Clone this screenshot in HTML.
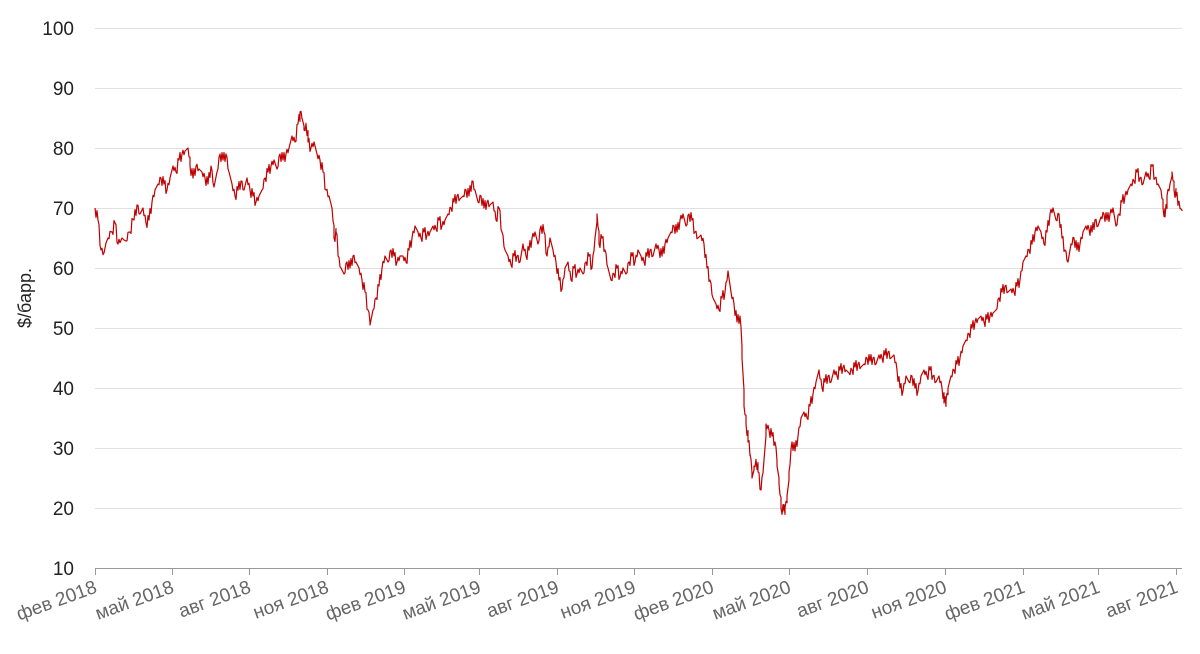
<!DOCTYPE html>
<html><head><meta charset="utf-8"><style>
body{margin:0;background:#fff;width:1200px;height:649px;overflow:hidden}
svg text{font-family:"Liberation Sans",sans-serif}
</style></head><body>
<svg id="s" width="1200" height="649" xmlns="http://www.w3.org/2000/svg">
<g id="grid" stroke="#e0e0e0" stroke-width="1"></g>
<g id="yl" font-size="19" fill="#222" text-anchor="end"></g>
<text x="0" y="0" font-size="18" fill="#222" text-anchor="middle" transform="translate(31,298) rotate(-90)">$/барр.</text>
<line x1="95" y1="568.5" x2="1182" y2="568.5" stroke="#999"/>
<g id="xt" stroke="#999"></g>
<g id="xl" font-size="19" fill="#666" text-anchor="end"></g>
<polyline id="p" fill="none" stroke="#c00000" stroke-width="1.2" stroke-linejoin="round"/>
</svg>
<script>
var NS="http://www.w3.org/2000/svg";
function el(t,a,p,txt){var e=document.createElementNS(NS,t);for(var k in a)e.setAttribute(k,a[k]);if(txt)e.textContent=txt;document.getElementById(p).appendChild(e);}
function Y(v){return 28+(100-v)*6;}
for(var v=10;v<=100;v+=10){if(v>10)el('line',{x1:95,x2:1182,y1:Y(v)+.5,y2:Y(v)+.5},'grid');el('text',{x:74,y:Y(v)+7},'yl',String(v));}
var xs=[95,172,249,327,404,479,557,634,712,789,867,945,1023,1098,1176];
var lb=['фев 2018','май 2018','авг 2018','ноя 2018','фев 2019','май 2019','авг 2019','ноя 2019','фев 2020','май 2020','авг 2020','ноя 2020','фев 2021','май 2021','авг 2021'];
xs.forEach(function(x,i){el('line',{x1:x+.5,x2:x+.5,y1:568,y2:575},'xt');el('text',{x:0,y:0,transform:'translate('+(x+3)+',592) rotate(-20)'},'xl',lb[i]);});
var d=[95,70,98,68,101,63,104,62.5,108,65,112,66,115,67.5,118,64,122,65,126,64.5,130,66,134,68,137,70.5,140,69,143,70,146,67.5,149,68,152,71,155,73,158,74,161,75,164,74,167,73,170,75,173,77,176,76,179,78,182,79,185,79.5,188,80,190,77,193,75,196,77,199,76.5,202,76,205,75,208,74,211,77,214,73.5,217,76,220,79,223,78,226,79,229,76,232,74,235,72,238,73,241,74.5,244,73,247,75,250,73,253,72,256,71,259,72,262,73,265,75,268,76,271,77,274,78,277,76.5,280,79,283,78,286,79,289,80,292,82,295,81,298,84,300,86,302,85,304,83,306,84,308,81,311,80,314,81,317,79,320,78,323,76,326,73,329,72,332,70,334,65,336,66,338,62,341,60,344,59,347,61,350,60,353,62,356,61,359,60,362,58,365,56,368,53,370,50.5,373,53,376,55,379,57,382,60,385,62,388,61,391,63,394,62,397,61,400,62,403,62,406,61,409,63,412,65,415,67,418,66,421,65,424,66,427,65.5,430,66,433,67,436,66.5,439,68,442,67,445,68,448,69,451,70,454,71,457,72,460,71.5,463,72,466,73,469,72,472,74.5,475,73,478,71,481,72,484,70,487,71,490,70.5,493,71,496,68,499,70,502,66,505,63,508,62,511,60.5,514,62,517,62,520,61,523,64,526,62,529,63,532,65,535,66,538,64,541,67,544,66,547,62,550,65,553,63,556,61,559,58,562,56.5,565,60,568,61,571,58,574,60,577,59,580,60,583,59,586,61,589,62,592,60,595,65,597,69,599,64,602,65,605,63,608,60,611,58,614,59,617,60,620,58.5,623,60,626,59,629,61,632,62,635,61,638,63,641,62,644,61,647,62,650,63,653,62,656,64,659,63,662,62,665,64,668,65,671,66,674,67,677,66,680,68,683,69,686,67,689,69,692,68,695,66,698,65,701,65.5,704,64,707,60,710,58,713,55,716,54,719,53,722,55,725,56,728,59.5,731,56,734,54,737,51,740,52,742,45,744,37,746,34,748,31,750,29,752,25,754,27,756,28,758,26,761,23,764,28,766,34,769,33,772,32,775,31,777,27,779,24,781,20,783,19.5,785,20,787,22,789,26,792,31,795,29.5,798,32,801,35,804,36,807,35,810,37,813,39,816,41,819,43,822,40,825,41,828,42,831,41,834,43,837,42,840,43,843,43.5,846,43,849,42.5,852,43,855,43.5,858,44,861,43.5,864,44,867,45,870,44.5,873,45,876,44,879,45.5,882,45,885,45.5,888,46,891,45,894,45.5,897,43,900,40,903,39.5,906,42,909,41,912,42,915,40,918,39.5,921,42,924,43,927,42,930,43,933,42,936,41,939,42,942,40,944,37.5,946,38,948,40,951,42,954,43,957,44,960,45,963,47,966,48,969,49,972,50,975,51,978,51.5,981,52,984,51,987,51.5,990,52,993,52.5,996,53,999,55,1002,56,1005,57,1008,56,1011,56.5,1014,56,1017,57,1020,58,1023,61,1026,62,1029,63,1032,64,1035,66,1038,67,1041,66,1044,64,1047,66,1050,69,1053,70,1056,68,1059,69,1062,65,1065,63,1068,61,1071,64,1074,65,1077,63,1080,64,1083,66,1086,67,1089,66.5,1092,66,1095,68,1098,67,1101,68.5,1104,69,1107,68,1110,69,1113,70,1116,67,1119,69,1122,71,1125,72,1128,73,1131,74,1134,74.5,1137,76,1140,75,1143,74,1146,76,1149,75,1152,77,1155,75,1158,74,1161,73,1163,70,1165,68.5,1167,72,1170,74,1172,76,1174,73,1176,72,1178,71,1180,70,1182,69.5];
var pts=[];for(var i=0;i<d.length;i+=2){var x=d[i],v=d[i+1];if(i+2<d.length){var nx=d[i+2],nv=d[i+3];pts.push(x+','+Y(v).toFixed(1));var j=((i*7)%5-2)*0.45;pts.push((x+1)+','+Y(v+(nv-v)/3+j).toFixed(1));pts.push((x+2)+','+Y(v+2*(nv-v)/3-j).toFixed(1));}else pts.push(x+','+Y(v).toFixed(1));}
document.getElementById('p').setAttribute('points',pts.join(' '));
</script>
</body></html>
